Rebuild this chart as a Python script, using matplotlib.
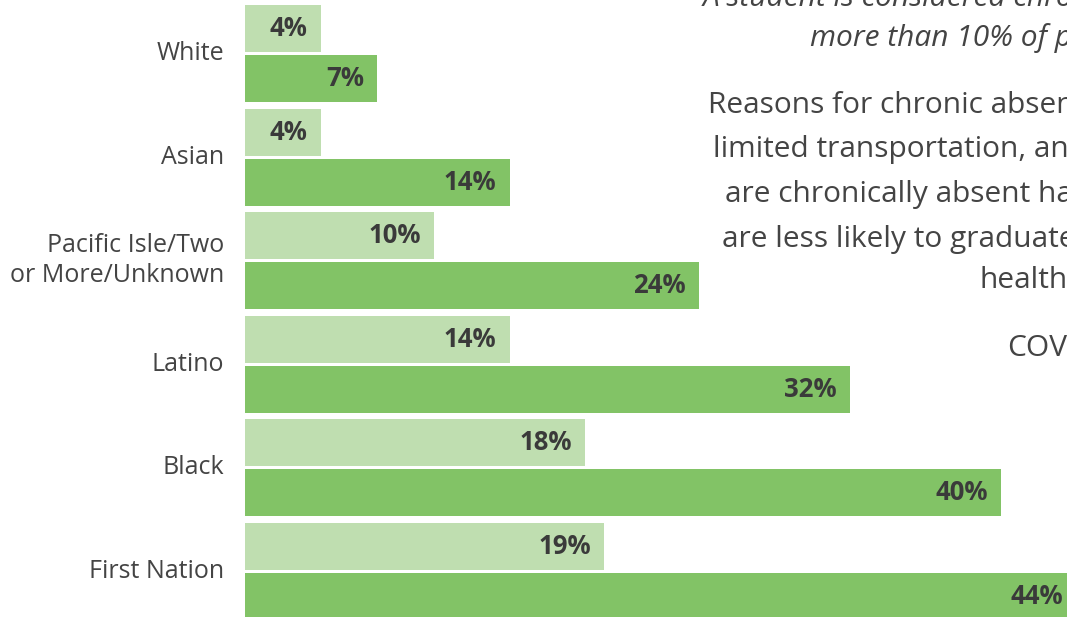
import numpy as np
import matplotlib.pyplot as plt

# chronic absence rates by group, two periods
groups = ["White", "Asian", "Pacific Isle/Two\nor More/Unknown", "Latino", "Black", "First Nation"]
earlier = [4, 4, 10, 14, 18, 19]
later = [7, 14, 24, 32, 40, 44]

light_green = "#bfdeb0"
dark_green = "#82c366"
text_gray = "#444444"

W, H = 1067, 617
fig = plt.figure(figsize=(W / 100, H / 100), dpi=100)
ax = fig.add_axes([245 / W, 0, 1 - 245 / W, 1])

y = np.arange(len(groups))
bar_h = 0.454
off = 0.2415
ax.barh(y - off, earlier, height=bar_h, color=light_green)
ax.barh(y + off, later, height=bar_h, color=dark_green)

ax.set_xlim(0, 43.5)
ax.set_ylim(5.444, -0.517)
ax.axis("off")

font = "Open Sans"
pad = -13 * 0.72  # 13 px back from the bar end, in points

# value labels inside the bar ends
for ys, vals in ((y - off, earlier), (y + off, later)):
    for yy, v in zip(ys, vals):
        ax.annotate(f"{v}%", (v, yy), xytext=(pad, 0), textcoords="offset points",
                    ha="right", va="center", fontsize=18.5, fontweight="bold",
                    color="#3a3a3a", family=font, annotation_clip=False)

# category names to the left of the bars
for yy, name in zip(y, groups):
    ax.annotate(name, (0, yy), xytext=(-15, 0), textcoords="offset points",
                ha="right", va="center", fontsize=18, color=text_gray,
                family=font, linespacing=1.3)

# explanatory paragraph running off the right edge
notes = [
    (703, 6, "A student is considered chronically absent", True),
    (810, 46, "more than 10% of possible", True),
    (708, 113, "Reasons for chronic absence", False),
    (713, 157, "limited transportation, and", False),
    (725, 202, "are chronically absent have", False),
    (722, 247, "are less likely to graduate", False),
    (980, 288, "health", False),
    (1007, 356, "COVID", False),
]
for px, py, line, italic in notes:
    fig.text(px / W, 1 - py / H, line, ha="left", va="baseline", fontsize=21.5,
             color=text_gray, family=font, style="italic" if italic else "normal")

fig.savefig("out.png", dpi=100)
